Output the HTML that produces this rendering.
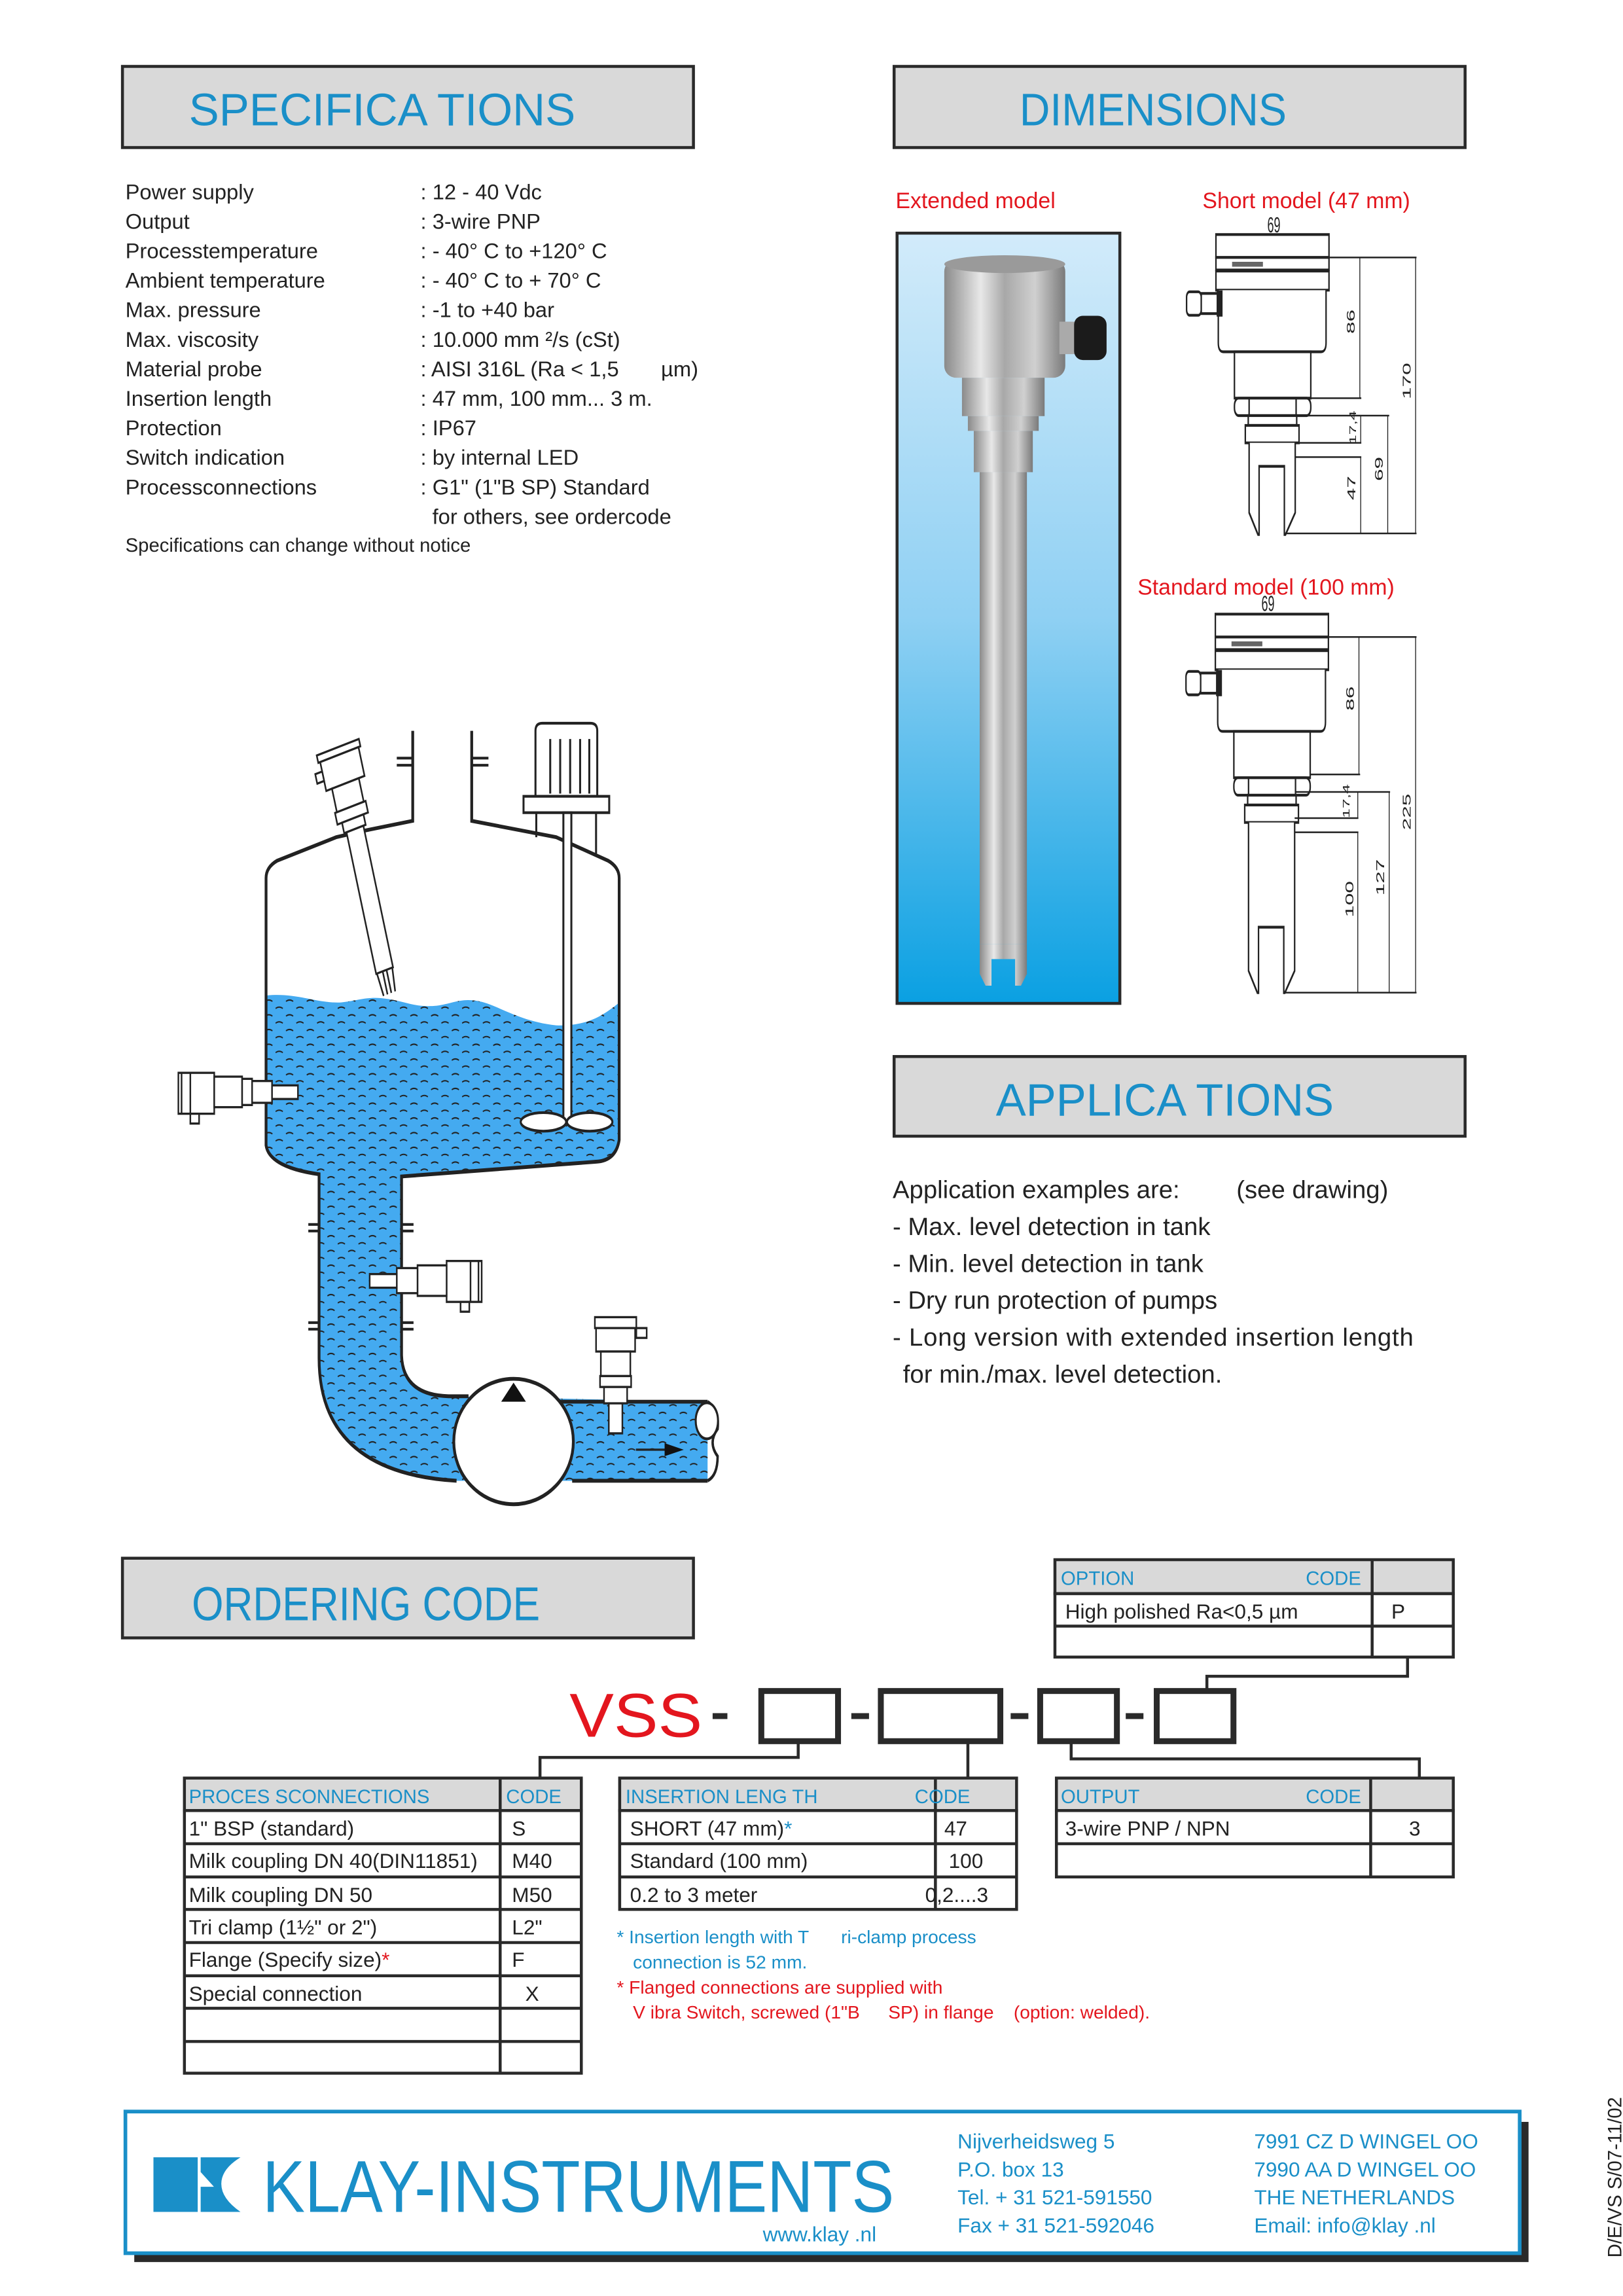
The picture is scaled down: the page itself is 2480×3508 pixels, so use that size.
<!DOCTYPE html>
<html><head><meta charset="utf-8"><style>
html,body{margin:0;padding:0;background:#fff}
svg{display:block}
text{font-family:"Liberation Sans",sans-serif}
</style></head><body>
<svg xmlns="http://www.w3.org/2000/svg" width="2480" height="3508" viewBox="0 0 2480 3508">
<defs>
<linearGradient id="photo" x1="0" y1="0" x2="0" y2="1">
<stop offset="0" stop-color="#d2ebfa"/><stop offset="0.5" stop-color="#8fd0f3"/><stop offset="1" stop-color="#0aa0e2"/>
</linearGradient>
<linearGradient id="steel" x1="0" y1="0" x2="1" y2="0">
<stop offset="0" stop-color="#8a8a8a"/><stop offset="0.3" stop-color="#e8e8e8"/><stop offset="0.5" stop-color="#a8a8a8"/><stop offset="0.75" stop-color="#d0d0d0"/><stop offset="1" stop-color="#7a7a7a"/>
</linearGradient>
<pattern id="waves" width="52" height="27" patternUnits="userSpaceOnUse">
<path d="M6 9 q9 -5 18 0 M32 22 q9 -5 18 0" fill="none" stroke="#222" stroke-width="2.5"/>
</pattern>
<g id="head" fill="#fff" stroke="#222" stroke-width="5">
<rect x="575" y="130" width="385" height="42"/>
<rect x="575" y="172" width="385" height="23"/>
<rect x="630" y="180" width="105" height="9" fill="#666" stroke="none"/>
<rect x="575" y="197" width="385" height="35"/>
<path d="M583 232 L583 328 Q583 345 600 345 L933 345 Q950 345 950 328 L950 232"/>
<rect x="638" y="345" width="260" height="85"/>
<rect x="638" y="430" width="260" height="32" rx="14"/>
<line x1="688" y1="432" x2="688" y2="460"/><line x1="848" y1="432" x2="848" y2="460"/>
<rect x="475" y="235" width="50" height="43" rx="10"/>
<rect x="525" y="238" width="55" height="37"/>
<rect x="580" y="235" width="15" height="43" fill="#222"/>
<rect x="685" y="462" width="165" height="18"/>
<rect x="675" y="480" width="183" height="32"/>
</g>
</defs>

<g transform="scale(2.2545)">
<rect x="83" y="45" width="387" height="55" fill="#d9d9d9" stroke="#2a2a2a" stroke-width="2"/>
<text x="128" y="85" font-size="31" fill="#1a8fc8" textLength="262" lengthAdjust="spacingAndGlyphs">SPECIFICA    TIONS</text>
<rect x="606" y="45" width="387" height="55" fill="#d9d9d9" stroke="#2a2a2a" stroke-width="2"/>
<text x="691" y="85" font-size="31" fill="#1a8fc8" textLength="181" lengthAdjust="spacingAndGlyphs">DIMENSIONS</text>

<g font-size="14.5" fill="#222">
<text x="85" y="135">Power supply</text><text x="285" y="135">: 12 - 40 Vdc</text>
<text x="85" y="155">Output</text><text x="285" y="155">: 3-wire PNP</text>
<text x="85" y="175">Processtemperature</text><text x="285" y="175">: - 40° C to +120° C</text>
<text x="85" y="195">Ambient temperature</text><text x="285" y="195">: - 40° C to +  70° C</text>
<text x="85" y="215">Max. pressure</text><text x="285" y="215">: -1 to +40 bar</text>
<text x="85" y="235">Max. viscosity</text><text x="285" y="235">: 10.000 mm  ²/s (cSt)</text>
<text x="85" y="255">Material probe</text><text x="285" y="255">: AISI 316L (Ra &lt; 1,5</text><text x="448" y="255">µm)</text>
<text x="85" y="275">Insertion length</text><text x="285" y="275">: 47 mm, 100 mm... 3 m.</text>
<text x="85" y="295">Protection</text><text x="285" y="295">: IP67</text>
<text x="85" y="315">Switch indication</text><text x="285" y="315">: by internal LED</text>
<text x="85" y="335">Processconnections</text><text x="285" y="335">: G1" (1"B   SP) Standard</text>
<text x="293" y="355">for others, see ordercode</text>
<text x="85" y="374" font-size="13">Specifications can change without notice</text>
</g>

<text x="607" y="141" font-size="15" fill="#e3161e">Extended model</text>
<text x="815" y="141" font-size="15" fill="#e3161e">Short model (47 mm)</text>
<text x="771" y="403" font-size="15" fill="#e3161e">Standard model (100 mm)</text>

<rect x="608" y="158" width="151" height="522" fill="url(#photo)" stroke="#2a2a2a" stroke-width="2"/>
<rect x="640" y="176" width="82" height="80" rx="8" fill="url(#steel)"/>
<ellipse cx="681" cy="179" rx="41" ry="6" fill="#9a9a9a"/>
<rect x="718" y="218" width="12" height="22" fill="#aaa"/>
<rect x="728" y="214" width="22" height="30" rx="6" fill="#1b1b1b"/>
<rect x="652" y="256" width="56" height="26" fill="url(#steel)"/>
<rect x="656" y="282" width="48" height="10" fill="url(#steel)"/>
<rect x="660" y="292" width="40" height="28" fill="url(#steel)"/>
<rect x="664" y="320" width="32" height="320" fill="url(#steel)"/>
<path d="M664 640 L664 660 L668 668 L672 668 L672 650 L688 650 L688 668 L692 668 L696 660 L696 640 Z" fill="url(#steel)"/>

<rect x="606" y="716" width="387" height="54" fill="#d9d9d9" stroke="#2a2a2a" stroke-width="2"/>
<text x="675" y="756" font-size="31" fill="#1a8fc8" textLength="229" lengthAdjust="spacingAndGlyphs">APPLICA    TIONS</text>
<g font-size="17" fill="#222">
<text x="605" y="812">Application examples are:</text><text x="838" y="812">(see drawing)</text>
<text x="605" y="837">- Max. level detection in tank</text>
<text x="605" y="862">- Min. level detection in tank</text>
<text x="605" y="887">- Dry run protection of pumps</text>
<text x="605" y="912" textLength="353">- Long version with extended insertion length</text>
<text x="612" y="937">for min./max. level detection.</text>
</g>

<rect x="83" y="1056" width="387" height="54" fill="#d9d9d9" stroke="#2a2a2a" stroke-width="2"/>
<text x="130" y="1098" font-size="32" fill="#1a8fc8" textLength="236" lengthAdjust="spacingAndGlyphs">ORDERING CODE</text>

<g stroke="#2a2a2a" stroke-width="2" fill="none">
<rect x="715" y="1057" width="270" height="23" fill="#d9d9d9"/>
<rect x="715" y="1080" width="270" height="43"/>
<line x1="715" y1="1102" x2="985" y2="1102"/><line x1="930" y1="1057" x2="930" y2="1123"/>
<polyline points="954,1123 954,1136 818,1136 818,1146"/>
<rect x="516" y="1146" width="52" height="34" stroke-width="4"/>
<rect x="597" y="1146" width="81" height="34" stroke-width="4"/>
<rect x="705" y="1146" width="52" height="34" stroke-width="4"/>
<rect x="784" y="1146" width="52" height="34" stroke-width="4"/>
<polyline points="541,1180 541,1191 366,1191 366,1205"/>
<line x1="656" y1="1180" x2="656" y2="1205"/>
<polyline points="726,1180 726,1192 962,1192 962,1205"/>
<rect x="125" y="1205" width="269" height="22" fill="#d9d9d9"/>
<rect x="125" y="1227" width="269" height="178"/>
<line x1="339" y1="1205" x2="339" y2="1405"/>
<line x1="125" y1="1249.5" x2="394" y2="1249.5"/><line x1="125" y1="1272" x2="394" y2="1272"/>
<line x1="125" y1="1294" x2="394" y2="1294"/><line x1="125" y1="1316.5" x2="394" y2="1316.5"/>
<line x1="125" y1="1339" x2="394" y2="1339"/><line x1="125" y1="1361" x2="394" y2="1361"/>
<line x1="125" y1="1383.5" x2="394" y2="1383.5"/>
<rect x="420" y="1205" width="269" height="22" fill="#d9d9d9"/>
<rect x="420" y="1227" width="269" height="67"/>
<line x1="634" y1="1205" x2="634" y2="1294"/>
<line x1="420" y1="1249.5" x2="689" y2="1249.5"/><line x1="420" y1="1272" x2="689" y2="1272"/>
<rect x="716" y="1205" width="269" height="22" fill="#d9d9d9"/>
<rect x="716" y="1227" width="269" height="45"/>
<line x1="929" y1="1205" x2="929" y2="1272"/>
<line x1="716" y1="1249.5" x2="985" y2="1249.5"/>
</g>
<g font-size="14" fill="#222">
<text x="719" y="1074" fill="#1a8fc8" font-size="13">OPTION</text><text x="885" y="1074" fill="#1a8fc8" font-size="13">CODE</text>
<text x="722" y="1097">High polished Ra&lt;0,5  µm</text><text x="943" y="1097">P</text>
<text x="128" y="1222" fill="#1a8fc8" font-size="13">PROCES   SCONNECTIONS</text><text x="343" y="1222" fill="#1a8fc8" font-size="13">CODE</text>
<text x="128" y="1244">1" BSP (standard)</text><text x="347" y="1244">S</text>
<text x="128" y="1266">Milk coupling DN 40(DIN11851)</text><text x="347" y="1266">M40</text>
<text x="128" y="1289">Milk coupling DN 50</text><text x="347" y="1289">M50</text>
<text x="128" y="1311">Tri clamp (1½" or 2")</text><text x="347" y="1311">L2"</text>
<text x="128" y="1333">Flange (Specify size)<tspan fill="#e3161e">*</tspan></text><text x="347" y="1333">F</text>
<text x="128" y="1356">Special connection</text><text x="356" y="1356">X</text>
<text x="424" y="1222" fill="#1a8fc8" font-size="13">INSERTION LENG     TH</text><text x="620" y="1222" fill="#1a8fc8" font-size="13">CODE</text>
<text x="427" y="1244">SHORT (47 mm)<tspan fill="#1a8fc8">*</tspan></text><text x="640" y="1244">47</text>
<text x="427" y="1266">Standard (100 mm)</text><text x="643" y="1266">100</text>
<text x="427" y="1289">0.2 to 3 meter</text><text x="627" y="1289">0,2....3</text>
<text x="719" y="1222" fill="#1a8fc8" font-size="13">OUTPUT</text><text x="885" y="1222" fill="#1a8fc8" font-size="13">CODE</text>
<text x="722" y="1244">3-wire PNP / NPN</text><text x="955" y="1244">3</text>
</g>
<text x="386" y="1177" font-size="42" fill="#e3161e" textLength="90" lengthAdjust="spacingAndGlyphs">VSS</text>
<g fill="#2a2a2a"><rect x="483" y="1161" width="10" height="4"/><rect x="577" y="1161" width="12" height="4"/><rect x="685" y="1161" width="12" height="4"/><rect x="763" y="1161" width="12" height="4"/></g>
<g font-size="12.5">
<text x="418" y="1317" fill="#1a8fc8">*  Insertion length with T</text><text x="570" y="1317" fill="#1a8fc8">ri-clamp process</text>
<text x="429" y="1334" fill="#1a8fc8">connection is 52 mm.</text>
<text x="418" y="1351" fill="#e3161e">*  Flanged connections are supplied with</text>
<text x="429" y="1368" fill="#e3161e">V ibra Switch, screwed (1"B</text><text x="602" y="1368" fill="#e3161e">SP) in flange</text><text x="687" y="1368" fill="#e3161e">(option: welded).</text>
</g>

<rect x="91" y="1438" width="945" height="95" fill="#2a2a2a"/>
<rect x="85" y="1431" width="945" height="96" fill="#fff" stroke="#1a8fc8" stroke-width="2.5"/>
<rect x="104" y="1462" width="30" height="37" fill="#1a8fc8"/>
<path d="M136 1462 L163 1462 Q150 1470 150 1480 Q150 1490 163 1499 L136 1499 L136 1482 L145 1482 L136 1472 Z" fill="#1a8fc8"/>
<text x="178" y="1499" font-size="50" fill="#1a8fc8" textLength="428" lengthAdjust="spacingAndGlyphs">KLAY-INSTRUMENTS</text>
<text x="517" y="1519" font-size="14" fill="#1a8fc8">www.klay .nl</text>
<g font-size="14" fill="#1a8fc8">
<text x="649" y="1456">Nijverheidsweg 5</text>
<text x="649" y="1475">P.O. box 13</text>
<text x="649" y="1494">Tel. + 31 521-591550</text>
<text x="649" y="1513">Fax + 31 521-592046</text>
<text x="850" y="1456">7991 CZ  D  WINGEL  OO</text>
<text x="850" y="1475">7990 AA  D  WINGEL  OO</text>
<text x="850" y="1494">THE NETHERLANDS</text>
<text x="850" y="1513">Email: info@klay   .nl</text>
</g>
<text transform="translate(1099,1530) rotate(-90)" font-size="13" fill="#222">D/E/VS S/07-11/02</text>
</g>

<g transform="translate(1600,250) scale(0.4487,0.8333)">
<use href="#head"/>
<path d="M688 512 L688 640 L718 680 L722 680 L722 555 L808 555 L808 680 L812 680 L845 640 L845 512" fill="#fff" stroke="#222" stroke-width="5"/>
<g stroke="#222" stroke-width="3" fill="none">
<line x1="575" y1="130" x2="960" y2="130"/>
<line x1="960" y1="172" x2="1258" y2="172"/>
<line x1="898" y1="430" x2="1070" y2="430"/>
<line x1="850" y1="462" x2="1165" y2="462"/>
<line x1="845" y1="512" x2="1070" y2="512"/>
<line x1="845" y1="538" x2="1070" y2="538"/>
<line x1="810" y1="678" x2="1258" y2="678"/>
<line x1="1065" y1="172" x2="1065" y2="430"/>
<line x1="1255" y1="172" x2="1255" y2="678"/>
<line x1="1068" y1="462" x2="1068" y2="512"/>
<line x1="1160" y1="462" x2="1160" y2="678"/>
<line x1="1068" y1="538" x2="1068" y2="678"/>
</g>
<g font-size="40" fill="#222">
<text x="750" y="126">69</text>
<text transform="translate(1048,312) rotate(-90)">86</text>
<text transform="translate(1238,432) rotate(-90)">170</text>
<text transform="translate(1052,515) rotate(-90)" font-size="32">17,4</text>
<text transform="translate(1143,582) rotate(-90)">69</text>
<text transform="translate(1050,617) rotate(-90)">47</text>
</g>

<use href="#head" transform="translate(-2,696)"/>
<path d="M686 1208 L686 1480 L716 1520 L720 1520 L720 1400 L806 1400 L806 1520 L810 1520 L843 1480 L843 1208" fill="#fff" stroke="#222" stroke-width="5"/>
<g stroke="#222" stroke-width="3" fill="none">
<line x1="573" y1="826" x2="958" y2="826"/>
<line x1="958" y1="868" x2="1258" y2="868"/>
<line x1="896" y1="1120" x2="1066" y2="1120"/>
<line x1="848" y1="1152" x2="1168" y2="1152"/>
<line x1="843" y1="1200" x2="1060" y2="1200"/>
<line x1="843" y1="1226" x2="1060" y2="1226"/>
<line x1="810" y1="1520" x2="1258" y2="1520"/>
<line x1="1062" y1="868" x2="1062" y2="1120"/>
<line x1="1255" y1="868" x2="1255" y2="1520"/>
<line x1="1058" y1="1152" x2="1058" y2="1200"/>
<line x1="1165" y1="1152" x2="1165" y2="1520"/>
<line x1="1058" y1="1226" x2="1058" y2="1520"/>
</g>
<g font-size="40" fill="#222">
<text x="730" y="820">69</text>
<text transform="translate(1045,1003) rotate(-90)">86</text>
<text transform="translate(1238,1222) rotate(-90)">225</text>
<text transform="translate(1030,1200) rotate(-90)" font-size="32">17,4</text>
<text transform="translate(1148,1342) rotate(-90)">127</text>
<text transform="translate(1043,1382) rotate(-90)">100</text>
</g>
</g>

<g transform="translate(180,1050) scale(0.609,0.8333)">
<path d="M375 565 C450 560 500 580 560 578 C600 575 620 568 660 570 C720 574 740 588 800 584 C840 580 860 570 900 575 C950 580 1000 612 1100 620 C1180 622 1220 600 1255 580 L1258 830 Q1250 868 1200 870 L712 897 L712 1225 Q715 1298 830 1300 L1480 1310 L1480 1455 L850 1455 Q505 1440 505 1230 L505 893 Q380 880 372 840 Z" fill="#44aaf0"/>
<path d="M375 565 C450 560 500 580 560 578 C600 575 620 568 660 570 C720 574 740 588 800 584 C840 580 860 570 900 575 C950 580 1000 612 1100 620 C1180 622 1220 600 1255 580 L1258 830 Q1250 868 1200 870 L712 897 L712 1225 Q715 1298 830 1300 L1480 1310 L1480 1455 L850 1455 Q505 1440 505 1230 L505 893 Q380 880 372 840 Z" fill="url(#waves)"/>
<g fill="none" stroke="#222" stroke-width="7">
<path d="M740 80 L740 245 L625 262 L548 275 L400 318 Q372 330 372 350 L372 840 Q380 880 505 893 L505 1230 Q505 1440 850 1455"/>
<path d="M888 80 L888 245 L1100 275 L1230 318 Q1258 330 1258 350 L1258 830 Q1250 868 1200 870 L712 897 L712 1225 Q715 1298 830 1300 L880 1300"/>
<path d="M1110 1310 L1480 1310 M1140 1455 L1480 1455"/>
<line x1="700" y1="130" x2="740" y2="130" stroke-width="5"/><line x1="700" y1="143" x2="740" y2="143" stroke-width="5"/>
<line x1="888" y1="130" x2="930" y2="130" stroke-width="5"/><line x1="888" y1="143" x2="930" y2="143" stroke-width="5"/>
<g stroke-width="5">
<line x1="478" y1="985" x2="505" y2="985"/><line x1="478" y1="997" x2="505" y2="997"/>
<line x1="712" y1="985" x2="742" y2="985"/><line x1="712" y1="997" x2="742" y2="997"/>
<line x1="478" y1="1165" x2="505" y2="1165"/><line x1="478" y1="1177" x2="505" y2="1177"/>
<line x1="712" y1="1165" x2="742" y2="1165"/><line x1="712" y1="1177" x2="742" y2="1177"/>
</g>
</g>
<path d="M1480 1310 Q1510 1325 1505 1360 Q1480 1385 1505 1410 Q1505 1445 1480 1455" fill="#fff" stroke="#222" stroke-width="6"/>
<ellipse cx="1478" cy="1345" rx="28" ry="33" fill="#fff" stroke="#222" stroke-width="5"/>
<line x1="1300" y1="1398" x2="1380" y2="1398" stroke="#222" stroke-width="4"/>
<path d="M1372 1386 L1420 1398 L1372 1410 Z" fill="#111"/>
<ellipse cx="993" cy="1383" rx="150" ry="115" fill="#fff" stroke="#222" stroke-width="7"/>
<path d="M962 1310 L993 1275 L1024 1310 Z" fill="#111"/>
<g fill="#fff" stroke="#222" stroke-width="5">
<path d="M1048 200 L1048 80 Q1048 66 1065 66 L1186 66 Q1203 66 1203 80 L1203 200 Z"/>
<line x1="1085" y1="95" x2="1085" y2="195"/><line x1="1110" y1="95" x2="1110" y2="195"/><line x1="1135" y1="95" x2="1135" y2="195"/><line x1="1160" y1="95" x2="1160" y2="195"/><line x1="1183" y1="95" x2="1183" y2="195"/>
<rect x="1018" y="200" width="215" height="30"/>
<line x1="1050" y1="230" x2="1050" y2="275"/><line x1="1200" y1="230" x2="1200" y2="305"/>
<rect x="1118" y="230" width="20" height="570"/>
<ellipse cx="1068" cy="797" rx="57" ry="17"/><ellipse cx="1184" cy="797" rx="57" ry="17"/>
</g>
<g transform="translate(552,110) rotate(-16)" fill="#fff" stroke="#222" stroke-width="4">
<rect x="-55" y="0" width="110" height="14"/>
<rect x="-50" y="14" width="100" height="55"/>
<rect x="-68" y="32" width="18" height="18"/>
<rect x="-35" y="69" width="70" height="45"/>
<rect x="-40" y="114" width="80" height="22"/>
<rect x="-28" y="136" width="56" height="20"/>
<rect x="-22" y="156" width="44" height="270"/>
<path d="M-20 426 L-15 470 M-5 426 L-5 470 M5 426 L5 470 M20 426 L15 470" fill="none"/>
</g>
<g fill="#fff" stroke="#222" stroke-width="4">
<rect x="152" y="707" width="90" height="75"/>
<line x1="160" y1="707" x2="160" y2="782"/><line x1="182" y1="707" x2="182" y2="782"/>
<rect x="242" y="714" width="70" height="56"/>
<rect x="312" y="718" width="25" height="48"/>
<rect x="337" y="722" width="50" height="40"/>
<rect x="387" y="730" width="65" height="25"/>
<rect x="182" y="782" width="22" height="18"/>
</g>
<g fill="#fff" stroke="#222" stroke-width="4">
<rect x="825" y="1052" width="88" height="75"/>
<line x1="905" y1="1052" x2="905" y2="1127"/><line x1="885" y1="1052" x2="885" y2="1127"/>
<rect x="752" y="1060" width="73" height="56"/>
<rect x="700" y="1065" width="52" height="46"/>
<rect x="632" y="1076" width="68" height="25"/>
<rect x="860" y="1127" width="22" height="18"/>
</g>
<g fill="#fff" stroke="#222" stroke-width="4">
<rect x="1197" y="1155" width="104" height="20"/>
<rect x="1200" y="1175" width="98" height="43"/>
<rect x="1301" y="1175" width="26" height="18"/>
<rect x="1212" y="1218" width="74" height="45"/>
<rect x="1210" y="1263" width="78" height="20"/>
<rect x="1220" y="1283" width="58" height="30"/>
<rect x="1232" y="1313" width="34" height="55"/>
</g>
</g>
</svg>
</body></html>
